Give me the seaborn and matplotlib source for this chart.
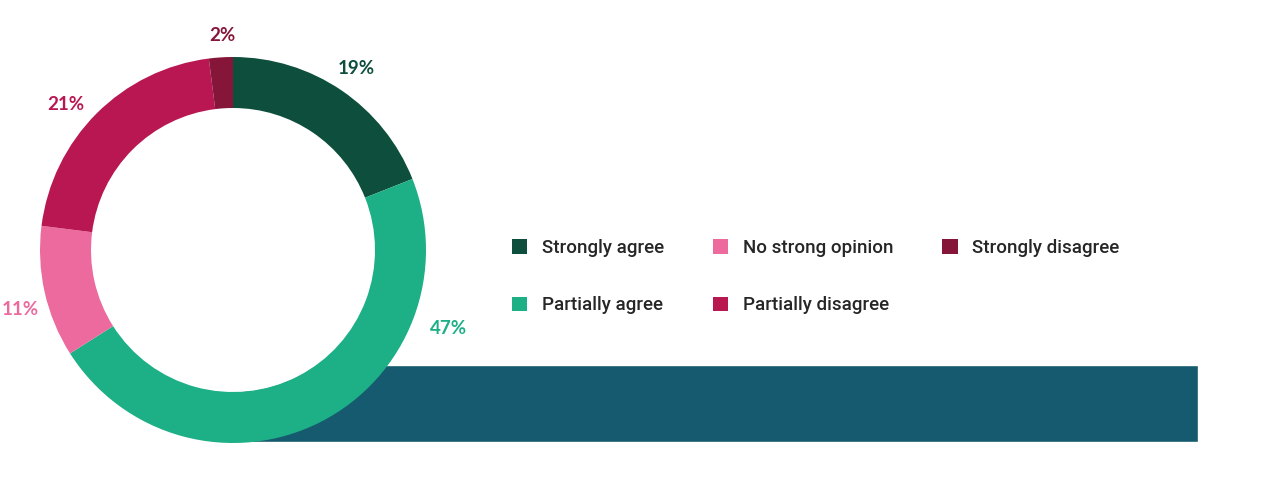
import numpy as np
import pandas as pd
import matplotlib
matplotlib.use("Agg")
import matplotlib.pyplot as plt
from matplotlib.patches import Patch, Circle
import seaborn as sns

# ---- data ----
categories = ["Strongly agree", "Partially agree", "No strong opinion",
              "Partially disagree", "Strongly disagree"]
shares = [19, 47, 11, 21, 2]
labels = ["19%", "47%", "11%", "21%", "2%"]
colors = ["#0d4f3c", "#1daf86", "#ec6a9e", "#b91752", "#85163a"]
band_value = [1.0]

# label placement tweaks (style): angular nudge in degrees and radius in px
label_nudge = [0.0, 43.0, 3.1, 4.0, -0.9]
label_radius = [220, 229, 221, 222, 215]

sns.set_theme(style="white")
plt.rcParams["font.family"] = ["Roboto", "DejaVu Sans"]

W, H = 1268, 500
fig = plt.figure(figsize=(W / 100, H / 100), dpi=100)

# background band (seaborn bar)
band_ax = fig.add_axes([233 / W, (H - 442) / H, (1198 - 233) / W, 77 / H])
band_df = pd.DataFrame({"v": band_value, "c": ["band"]})
sns.barplot(data=band_df, x="v", y="c", orient="h", color="#155a6e",
            saturation=1, width=1.0, ax=band_ax)
band_ax.set_xlim(0, 1)
band_ax.set_ylim(0.5, -0.5)
band_ax.axis("off")

# donut
ax = fig.add_axes([0, 0, 1, 1])
cx, cy, R, ring = 233, 250, 193, 51
ax.add_patch(Circle((cx, cy), R - ring + 0.5, facecolor="white", edgecolor="none", zorder=0))
wedges, _ = ax.pie(shares, colors=colors, startangle=90, counterclock=False,
                   center=(cx, cy), radius=R,
                   wedgeprops=dict(width=ring, edgecolor="none"))
ax.set_xlim(0, W)
ax.set_ylim(0, H)
ax.set_aspect("equal")
ax.axis("off")
ax.patch.set_alpha(0)

# percent labels around the ring
for w, lab, col, nd, r in zip(wedges, labels, colors, label_nudge, label_radius):
    ang = np.deg2rad((w.theta1 + w.theta2) / 2 + nd)
    ax.text(cx + r * np.cos(ang), cy + r * np.sin(ang), lab, color=col,
            ha="center", va="center", fontsize=13.5, fontweight="bold",
            family=["Lato", "DejaVu Sans"])

handles = [Patch(facecolor=c, edgecolor="none") for c in colors]
fig.legend(handles, categories, ncol=3, frameon=False,
           loc="upper left", bbox_to_anchor=(512 / W, 1 - 239 / H),
           borderaxespad=0, borderpad=0,
           handlelength=0.82, handleheight=0.82, handletextpad=0.8,
           columnspacing=2.58, labelspacing=2.1,
           prop={"family": ["Roboto", "DejaVu Sans"],
                 "size": 13.5, "weight": "medium"})

fig.savefig("out.png", dpi=100)
